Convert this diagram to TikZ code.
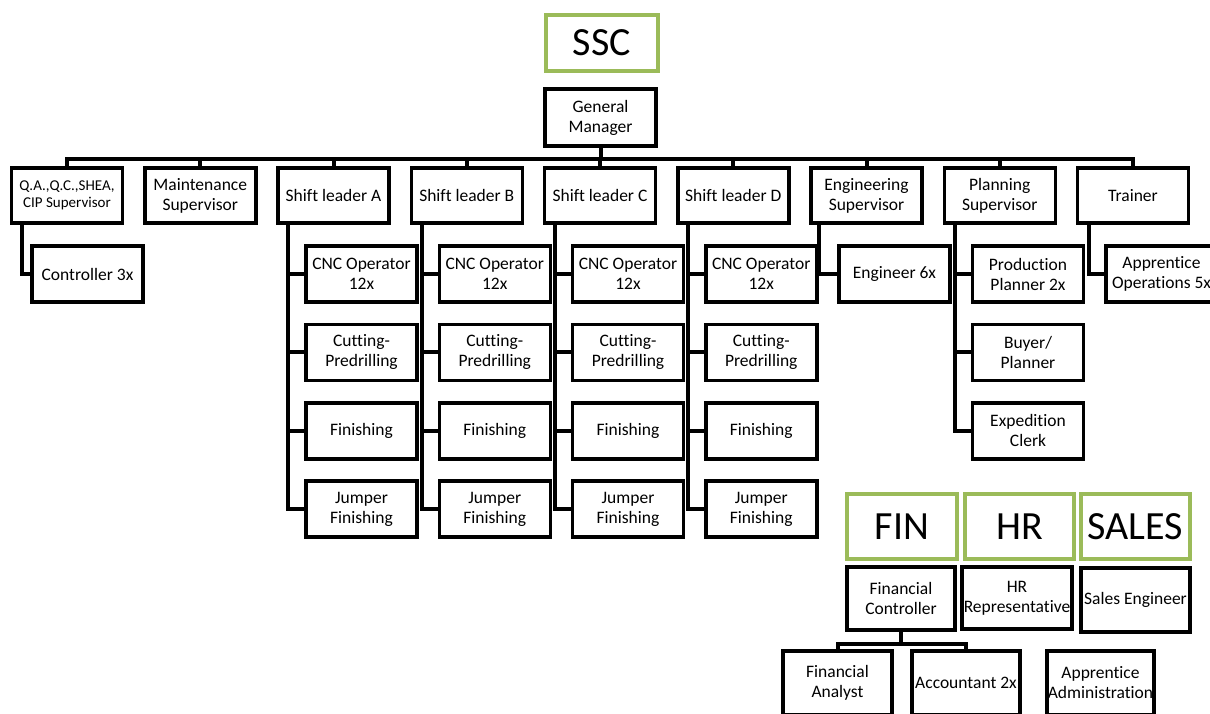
\documentclass[tikz,border=0pt]{standalone}
\usepackage{fontspec}
\setmainfont[Ligatures=NoCommon]{Carlito}
\definecolor{unitgreen}{RGB}{155,187,89}
\begin{document}
\begin{tikzpicture}[x=1pt,y=-1pt,line width=4pt,
	every node/.style={draw,line width=3.5pt,fill=white,align=center,inner sep=0pt,
		minimum width=111pt,minimum height=55pt,font=\fontsize{17.5}{20}\selectfont},
	unit/.style={draw=unitgreen,minimum height=56pt,font=\fontsize{40}{44}\selectfont},
	job/.style={minimum height=56pt}]
\useasboundingbox[fill=white] (0,0) rectangle (1210,713);
% SSC
\node[unit,minimum width=112pt] (ssc) at (602,43) {SSC};
\node[minimum height=57pt] (gm) at (600.5,117.5) {General\\Manager};
\node[font=\fontsize{15}{17}\selectfont] (qa) at (67,195.5) {Q.A.,Q.C.,SHEA,\\CIP Supervisor};
\node (maint) at (200.25,195.5) {Maintenance\\Supervisor};
\foreach \s [count=\i from 2] in {A,B,C,D} {
	\node (sl\s) at (67+133.25*\i,195.5) {Shift leader \s};
	\foreach \job [count=\j from 0] in {CNC Operator\\12x,Cutting-\\Predrilling,Finishing,Jumper\\Finishing} {
		\node[job] (sl\s\j) at (95+133.25*\i,274+78.4*\j) {\job};
		\draw ([xshift=12pt]sl\s.south west) |- (sl\s\j.west);
	}
}
\node (eng) at (866.5,195.5) {Engineering\\Supervisor};
\node (plan) at (999.75,195.5) {Planning\\Supervisor};
\node (trainer) at (1133,195.5) {Trainer};
\foreach \t in {qa,maint,slA,slB,slC,slD,eng,plan,trainer}
	\draw (gm.south) -- ++(0,11) -| (\t.north);
% single children
\node[job] (ctrl) at (87.5,274) {Controller 3x};
\draw ([xshift=12pt]qa.south west) |- (ctrl.west);
\node[job] (engr) at (894.5,274) {Engineer 6x};
\draw ([xshift=10pt]eng.south west) |- (engr.west);
\foreach \job [count=\j from 0] in {Production\\Planner 2x,Buyer/\\Planner,Expedition\\Clerk} {
	\node[job] (plan\j) at (1028,274+78.4*\j) {\job};
	\draw ([xshift=12pt]plan.south west) |- (plan\j.west);
}
\node[job] (approps) at (1161.5,274) {Apprentice\\Operations 5x};
\draw ([xshift=13pt]trainer.south west) |- (approps.west);
% FIN, HR, SALES
\node[unit,minimum width=110pt,minimum height=65pt] (fin) at (902,526.5) {FIN};
\node[unit,minimum width=109pt,minimum height=65pt] (hr) at (1019.5,526.5) {HR};
\node[unit,minimum width=109pt,minimum height=65pt] (sales) at (1135.5,526.5) {SALES};
\node[minimum width=108pt,minimum height=63pt] (fc) at (901,598.5) {Financial\\Controller};
\node[minimum width=110pt,minimum height=62pt] (hrrep) at (1017,598) {HR\\Representative};
\node[minimum width=109pt,minimum height=64pt] (saleseng) at (1135.5,600) {Sales Engineer};
\node[minimum width=109pt,minimum height=64pt] (fa) at (837.5,683) {Financial\\Analyst};
\node[minimum width=108pt,minimum height=64pt] (acc) at (966,683) {Accountant 2x};
\node[minimum width=107pt,minimum height=64pt] (appadm) at (1100.5,683) {Apprentice\\Administration};
\draw (fc.south) -- ++(0,12) -| (fa.north);
\draw (fc.south) -- ++(0,12) -| (acc.north);
\end{tikzpicture}
\end{document}
